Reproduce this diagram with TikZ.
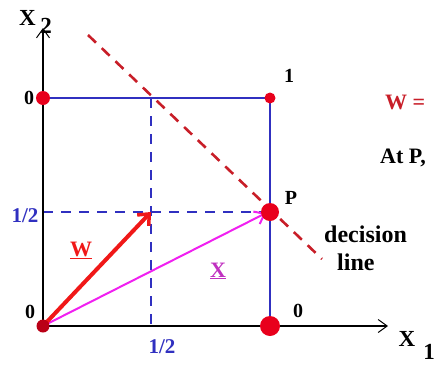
\documentclass[tikz,border=0pt]{standalone}
\usepackage{fontspec}
\setmainfont{Liberation Serif}
\usetikzlibrary{arrows.meta}
\definecolor{sqblue}{HTML}{3030C0}
\definecolor{dotred}{HTML}{E8001C}
\definecolor{lnred}{HTML}{C81E28}
\definecolor{wred}{HTML}{F01818}
\definecolor{xmag}{HTML}{F020F0}
\definecolor{xlab}{HTML}{C030C0}
\tikzset{
  lbl/.style={inner sep=0pt, font=\bfseries\fontsize{20}{20}\selectfont},
  txt/.style={inner sep=0pt, anchor=west, font=\bfseries\fontsize{24}{24}\selectfont},
  sidetxt/.style={inner sep=0pt, anchor=west, font=\bfseries\fontsize{22}{22}\selectfont},
  veclbl/.style={inner sep=0pt, font=\bfseries\fontsize{22}{22}\selectfont},
  axlbl/.style={inner sep=0pt, font=\bfseries\fontsize{23}{23}\selectfont},
  bluelbl/.style={inner sep=0pt, text=sqblue, font=\bfseries\fontsize{21}{21}\selectfont},
  dot/.style={circle, fill=dotred, inner sep=0pt},
  sqline/.style={sqblue, line width=1.3pt},
  dashblue/.style={sqblue, line width=1.3pt, dash pattern=on 10pt off 8pt},
  axis/.style={black, line width=1.2pt, -{Straight Barb[length=9pt,width=13pt,line width=1pt]}},
}
\begin{document}
\begin{tikzpicture}[x=1pt,y=-1pt]
\useasboundingbox (0,0) rectangle (437,365);
% key points
\coordinate (O) at (43,326);
\coordinate (A) at (43,98);
\coordinate (B) at (270,98);
\coordinate (C) at (270,326);
\coordinate (H1) at (151,98);
\coordinate (H2) at (151,326);
\coordinate (V1) at (43,212);
\coordinate (V2) at (270,212);
\coordinate (xend) at (388,326);
\coordinate (yend) at (43,28);
\coordinate (dlA) at (88,35);
\coordinate (dlB) at (322,259);
\coordinate (Wtip) at (151,212);
\coordinate (Xtip) at (266,213);
% square
\draw[sqline] (A) -- (B) -- (C);
\draw[dashblue] (H1) -- (H2);
\draw[dashblue] (V1) -- (V2);
% axes
\draw[axis] (O) -- (xend);
\draw[axis] (O) -- (yend);
% decision line
\draw[lnred, line width=2.6pt, dash pattern=on 11pt off 8pt] (dlA) -- (dlB);
% vectors
\draw[xmag, line width=2pt, -{Straight Barb[length=9pt,width=14pt,line width=2pt]}] (O) -- (Xtip);
\draw[wred, line width=4pt, -{Straight Barb[length=9pt,width=16pt,line width=3.5pt]}] (O) -- (Wtip);
% dots
\node[dot, minimum size=14pt] (d0) at (A) {};
\node[dot, minimum size=11pt] (d1) at (B) {};
\node[dot, minimum size=18pt] (dP) at (V2) {};
\node[dot, minimum size=20pt] (dC) at (C) {};
\node[circle, fill=dotred!80!black, inner sep=0pt, minimum size=13pt] (dO) at (O) {};
% labels
\node[axlbl] (x2) at (27.5,18) {X};
\node[axlbl] (x2s) at (46,26) {2};
\node[axlbl] (x1) at (407,339) {X};
\node[axlbl] (x1s) at (429,352) {1};
\node[lbl] (l0a) at (29,98) {0};
\node[lbl] (l1) at (289,76) {1};
\node[lbl] (lP) at (291,198) {P};
\node[lbl] (l0c) at (298,311) {0};
\node[lbl] (l0o) at (30,312) {0};
\node[bluelbl] (h1) at (25,216) {1/2};
\node[bluelbl] (h2) at (162,347) {1/2};
\node[veclbl, text=wred] (wl) at (81,250) {\underline{W}};
\node[veclbl, text=xlab] (xl) at (218,271) {\underline{X}};
\node[txt] (dec) at (324,234) {decision};
\node[txt] (lin) at (337,262) {line};
\node[sidetxt, text=lnred] (weq) at (385,102) {W =};
\node[sidetxt] (atp) at (380,158) {At P,};
\end{tikzpicture}
\end{document}
